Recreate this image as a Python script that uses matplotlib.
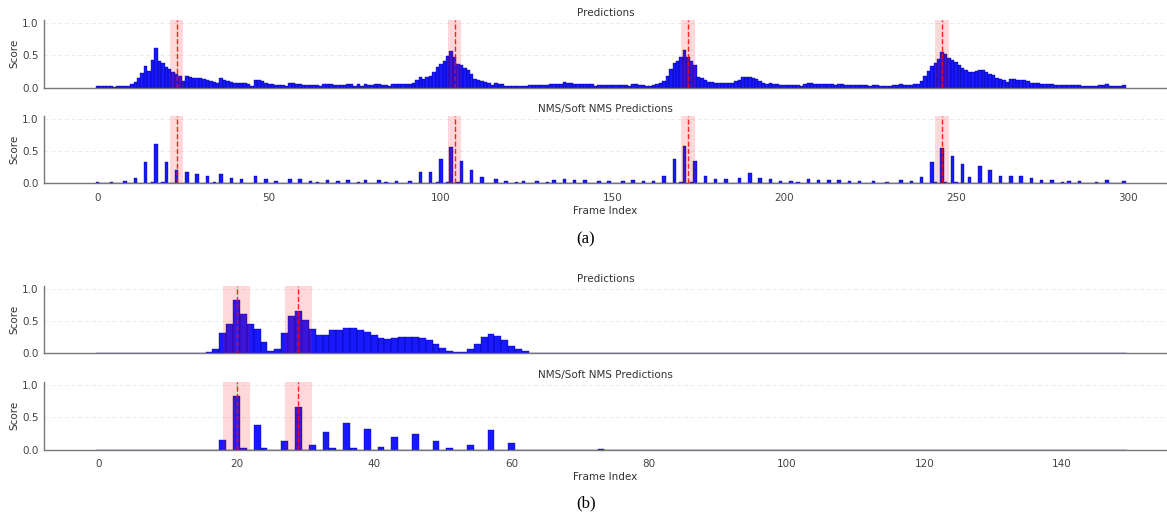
import numpy as np
import matplotlib
matplotlib.use("Agg")
import matplotlib.pyplot as plt

# ---- (a) 300-frame clip ----
pred_a = [
    0.02, 0.02, 0.02, 0.02, 0.02, 0.01, 0.02, 0.02, 0.03, 0.03,
    0.05, 0.09, 0.15, 0.23, 0.34, 0.26, 0.43, 0.61, 0.41, 0.39,
    0.32, 0.29, 0.24, 0.21, 0.18, 0.11, 0.18, 0.16, 0.15, 0.15,
    0.15, 0.14, 0.12, 0.11, 0.09, 0.07, 0.15, 0.12, 0.10, 0.09,
    0.07, 0.07, 0.07, 0.07, 0.05, 0.03, 0.12, 0.12, 0.10, 0.07,
    0.05, 0.05, 0.04, 0.04, 0.04, 0.02, 0.07, 0.07, 0.05, 0.05,
    0.04, 0.04, 0.04, 0.04, 0.04, 0.03, 0.05, 0.05, 0.05, 0.04,
    0.04, 0.04, 0.04, 0.05, 0.05, 0.03, 0.05, 0.03, 0.05, 0.04,
    0.04, 0.05, 0.05, 0.04, 0.04, 0.02, 0.05, 0.05, 0.05, 0.05,
    0.05, 0.05, 0.07, 0.12, 0.17, 0.14, 0.16, 0.18, 0.24, 0.32,
    0.37, 0.41, 0.49, 0.57, 0.48, 0.36, 0.35, 0.31, 0.27, 0.21,
    0.14, 0.12, 0.10, 0.09, 0.07, 0.04, 0.07, 0.05, 0.05, 0.03,
    0.03, 0.03, 0.03, 0.03, 0.03, 0.02, 0.04, 0.04, 0.04, 0.04,
    0.04, 0.04, 0.05, 0.05, 0.05, 0.05, 0.09, 0.07, 0.07, 0.06,
    0.06, 0.06, 0.06, 0.06, 0.06, 0.03, 0.04, 0.04, 0.04, 0.04,
    0.04, 0.04, 0.04, 0.04, 0.04, 0.02, 0.06, 0.06, 0.04, 0.04,
    0.02, 0.02, 0.04, 0.05, 0.08, 0.11, 0.18, 0.29, 0.38, 0.41,
    0.47, 0.58, 0.47, 0.42, 0.35, 0.16, 0.15, 0.12, 0.09, 0.09,
    0.08, 0.08, 0.08, 0.08, 0.08, 0.07, 0.11, 0.12, 0.16, 0.16,
    0.16, 0.15, 0.13, 0.10, 0.08, 0.05, 0.07, 0.05, 0.06, 0.04,
    0.04, 0.04, 0.04, 0.04, 0.04, 0.02, 0.06, 0.07, 0.07, 0.06,
    0.06, 0.06, 0.06, 0.06, 0.06, 0.04, 0.06, 0.06, 0.04, 0.04,
    0.04, 0.04, 0.04, 0.04, 0.04, 0.02, 0.04, 0.04, 0.02, 0.02,
    0.02, 0.02, 0.04, 0.04, 0.05, 0.04, 0.04, 0.04, 0.06, 0.06,
    0.10, 0.18, 0.26, 0.34, 0.38, 0.44, 0.55, 0.52, 0.46, 0.43,
    0.40, 0.35, 0.31, 0.28, 0.25, 0.25, 0.26, 0.27, 0.27, 0.25,
    0.21, 0.19, 0.15, 0.13, 0.12, 0.09, 0.13, 0.13, 0.12, 0.12,
    0.12, 0.10, 0.08, 0.08, 0.07, 0.05, 0.05, 0.05, 0.05, 0.04,
    0.04, 0.04, 0.04, 0.04, 0.04, 0.04, 0.04, 0.02, 0.02, 0.02,
    0.02, 0.02, 0.04, 0.04, 0.05, 0.02, 0.02, 0.02, 0.02, 0.04,
]
nms_frames_a = [0, 4, 8, 11, 14, 16, 17, 19, 20, 23, 26, 29, 32, 34, 36, 39, 42, 46,
                49, 52, 56, 59, 62, 64, 67, 70, 73, 76, 78, 82, 84, 87, 91, 94, 97,
                99, 100, 102, 103, 105, 106, 109, 112, 116, 119, 122, 124, 128, 131,
                133, 136, 139, 142, 146, 149, 153, 156, 159, 162, 165, 168, 170, 171,
                173, 174, 177, 180, 183, 187, 190, 193, 196, 199, 202, 204, 207, 210,
                213, 216, 219, 222, 226, 230, 234, 237, 240, 243, 244, 246, 247, 249,
                250, 252, 254, 257, 260, 263, 266, 269, 272, 275, 278, 281, 283, 286,
                291, 294, 299]
nms_scores_a = [0.02, 0.02, 0.04, 0.08, 0.33, 0.02, 0.61, 0.02, 0.33, 0.21, 0.18, 0.15,
                0.12, 0.02, 0.15, 0.09, 0.07, 0.12, 0.07, 0.04, 0.07, 0.06, 0.04, 0.02,
                0.05, 0.04, 0.05, 0.02, 0.05, 0.05, 0.02, 0.04, 0.04, 0.18, 0.18, 0.02,
                0.37, 0.02, 0.56, 0.02, 0.34, 0.20, 0.10, 0.06, 0.03, 0.02, 0.03, 0.03,
                0.02, 0.05, 0.07, 0.05, 0.05, 0.03, 0.03, 0.03, 0.05, 0.03, 0.03, 0.11,
                0.37, 0.02, 0.58, 0.02, 0.34, 0.11, 0.06, 0.06, 0.09, 0.16, 0.09, 0.07,
                0.03, 0.03, 0.02, 0.06, 0.05, 0.05, 0.05, 0.03, 0.03, 0.03, 0.02, 0.05,
                0.03, 0.10, 0.33, 0.02, 0.55, 0.02, 0.42, 0.02, 0.30, 0.10, 0.27, 0.21,
                0.12, 0.12, 0.11, 0.08, 0.05, 0.05, 0.02, 0.03, 0.03, 0.02, 0.05, 0.03]
gt_a = [23, 104, 172, 246]

# ---- (b) 150-frame clip ----
pred_b = [
    0.0, 0.0, 0.0, 0.0, 0.0, 0.0, 0.0, 0.0, 0.0, 0.0,
    0.0, 0.0, 0.0, 0.01, 0.01, 0.01, 0.02, 0.07, 0.32, 0.45,
    0.83, 0.61, 0.46, 0.38, 0.18, 0.04, 0.07, 0.31, 0.58, 0.66,
    0.51, 0.37, 0.28, 0.29, 0.36, 0.36, 0.39, 0.39, 0.36, 0.33,
    0.28, 0.24, 0.22, 0.23, 0.25, 0.25, 0.26, 0.24, 0.20, 0.14,
    0.08, 0.04, 0.02, 0.02, 0.07, 0.15, 0.25, 0.30, 0.27, 0.20,
    0.12, 0.06, 0.03, 0.01, 0.005, 0.005, 0.005, 0.005, 0.005, 0.01,
    0.01, 0.01, 0.01, 0.01, 0.01, 0.01, 0.0, 0.0, 0.0, 0.0,
    0.0, 0.0, 0.0, 0.0, 0.0, 0.0, 0.0, 0.0, 0.0, 0.0,
    0.0, 0.0, 0.0, 0.0, 0.0, 0.0, 0.0, 0.0, 0.0, 0.0,
    0.0, 0.0, 0.0, 0.0, 0.0, 0.0, 0.0, 0.0, 0.0, 0.0,
    0.0, 0.0, 0.0, 0.0, 0.0, 0.0, 0.0, 0.0, 0.0, 0.0,
    0.0, 0.0, 0.0, 0.0, 0.0, 0.0, 0.0, 0.0, 0.0, 0.0,
    0.0, 0.0, 0.0, 0.0, 0.0, 0.0, 0.0, 0.0, 0.0, 0.0,
    0.0, 0.0, 0.0, 0.0, 0.0, 0.0, 0.0, 0.0, 0.0, 0.0,
]
nms_frames_b = [18, 20, 21, 23, 24, 27, 29, 31, 33, 34, 36, 37, 39, 41, 43, 46, 49, 51,
                54, 57, 60, 73]
nms_scores_b = [0.15, 0.83, 0.02, 0.38, 0.02, 0.13, 0.66, 0.07, 0.28, 0.02, 0.41, 0.02,
                0.32, 0.04, 0.19, 0.25, 0.14, 0.02, 0.07, 0.30, 0.11, 0.01]
gt_b = [20, 29]

W, H = 1167, 513
fig = plt.figure(figsize=(W / 100, H / 100), dpi=100)


def px_axes(top, bottom, left=44, right=1167):
    return fig.add_axes([left / W, 1 - bottom / H, (right - left) / W, (bottom - top) / H])


def style(ax, xlim, title):
    ax.set_xlim(*xlim)
    ax.set_ylim(0, 1.05)
    ax.set_yticks([0.0, 0.5, 1.0])
    ax.yaxis.grid(True, linestyle=(0, (4, 3)), color='#ebebeb', linewidth=0.7)
    ax.set_axisbelow(True)
    for s in ['top', 'right']:
        ax.spines[s].set_visible(False)
    for s in ['left', 'bottom']:
        ax.spines[s].set_color('#777777')
        ax.spines[s].set_linewidth(1.0)
    ax.tick_params(axis='y', length=0, labelsize=7.5, labelcolor='#444444', pad=4)
    ax.tick_params(axis='x', length=0, labelsize=7.5, labelcolor='#444444', pad=7)
    ax.set_ylabel('Score', fontsize=7.5, color='#333333', labelpad=2)
    ax.set_title(title, fontsize=7.5, color='#333333', pad=3)


def draw(ax, scores, gts, xlim, title):
    frames = np.arange(len(scores))
    ax.bar(frames, scores, width=1.0, color='blue', alpha=0.9,
           edgecolor='navy', linewidth=0.3, zorder=2)
    for g in gts:
        ax.axvspan(g - 2, g + 2, color='red', alpha=0.15, linewidth=0, zorder=3)
        ax.axvline(g, color='red', linestyle='--', linewidth=1.0, alpha=0.85, zorder=4)
    style(ax, xlim, title)


def nms_full(n, frames, scores):
    arr = np.zeros(n)
    arr[frames] = scores
    return arr


xlim_a = (-15.6, 311.5)
xlim_b = (-8.0, 155.3)

ax1 = px_axes(20, 87.7)
draw(ax1, pred_a, gt_a, xlim_a, 'Predictions')
ax1.tick_params(axis='x', labelbottom=False)

ax2 = px_axes(115.7, 183.3)
draw(ax2, nms_full(len(pred_a), nms_frames_a, nms_scores_a), gt_a, xlim_a,
     'NMS/Soft NMS Predictions')
ax2.set_xticks([0, 50, 100, 150, 200, 250, 300])
ax2.set_xlabel('Frame Index', fontsize=7.5, color='#333333', labelpad=2)

ax3 = px_axes(285.7, 353.3)
draw(ax3, pred_b, gt_b, xlim_b, 'Predictions')
ax3.tick_params(axis='x', labelbottom=False)

ax4 = px_axes(381.7, 449.7)
draw(ax4, nms_full(len(pred_b), nms_frames_b, nms_scores_b), gt_b, xlim_b,
     'NMS/Soft NMS Predictions')
ax4.set_xticks([0, 20, 40, 60, 80, 100, 120, 140])
ax4.set_xlabel('Frame Index', fontsize=7.5, color='#333333', labelpad=2)

fig.text(586 / W, 1 - 239 / H, '(a)', ha='center', va='center',
         fontsize=12, family='Liberation Serif')
fig.text(586 / W, 1 - 503 / H, '(b)', ha='center', va='center',
         fontsize=12, family='Liberation Serif')

fig.savefig('out.png', dpi=100)
